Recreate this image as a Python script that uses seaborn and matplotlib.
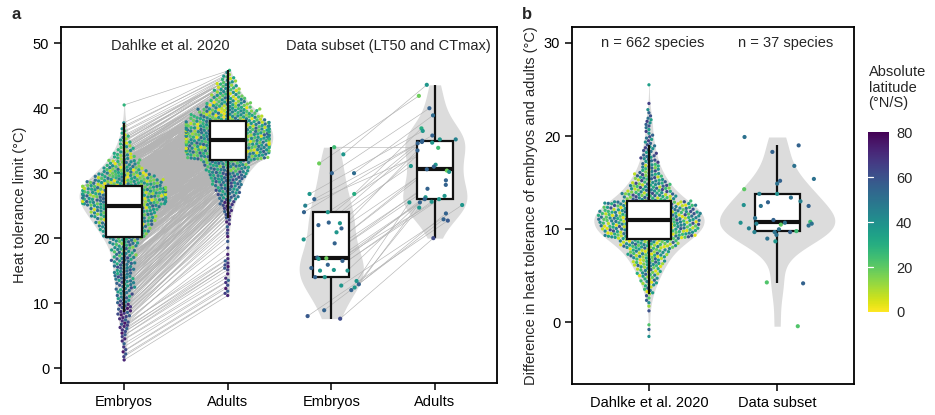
import numpy as np
import pandas as pd
import matplotlib
matplotlib.use("Agg")
import matplotlib.pyplot as plt
import seaborn as sns
from matplotlib.collections import LineCollection
import matplotlib as mpl

# ---------------- data ----------------
# Dahlke et al. 2020: counts of species per 1 °C bin (bin lower edge)
emb_bin_lo = list(range(1, 41))
emb_counts = [2, 3, 2, 3, 4, 6, 6, 8, 8, 8, 9, 10, 11, 12, 12, 13, 13, 14, 17,
              26, 30, 35, 38, 41, 54, 57, 54, 46, 36, 26, 18, 13, 9, 7, 5, 3, 2, 0, 0, 1]
adu_bin_lo = list(range(11, 46))
adu_counts = [3, 2, 3, 1, 4, 3, 1, 1, 1, 2, 2, 3, 4, 6, 9, 12, 15, 18, 22, 25, 28,
              50, 55, 55, 58, 58, 55, 45, 36, 27, 20, 15, 12, 8, 3]
diff_bin_lo = list(range(-2, 26))
diff_counts = [1, 2, 0, 2, 4, 8, 14, 20, 28, 36, 50, 80, 86, 88, 75, 44, 36, 25,
               17, 13, 10, 7, 5, 6, 3, 1, 0, 1]

# latitude mix (°N/S) seen at different embryo tolerance ranges
emb_lat_edges = [0, 10, 17, 22, 27, 32, 50]
emb_lat_mix = [
    [72, 65, 58, 75, 62, 68, 55, 70],
    [55, 45, 62, 40, 50, 35, 58, 48, 30],
    [45, 30, 55, 22, 40, 15, 50, 35],
    [30, 12, 45, 22, 55, 5, 38, 28, 42, 18, 35, 50],
    [28, 8, 38, 18, 45, 3, 32, 22, 50, 15, 40],
    [22, 38, 12, 42, 28, 6, 32],
]
diff_lat_edges = [-5, 3, 9, 13, 17, 30]
diff_lat_mix = [
    [40, 55, 22, 60, 12],
    [12, 35, 4, 45, 25, 55, 8, 30, 40, 18],
    [35, 20, 50, 8, 40, 60, 25, 45, 4, 30],
    [40, 25, 55, 15, 45, 62, 30, 8],
    [55, 40, 65, 35, 50, 60],
]

# Data subset (LT50 and CTmax), 37 species, paired order
sub_emb = [34.0, 32.9, 31.5, 30.0, 30.0, 26.8, 26.8, 26.0, 25.0, 24.0, 24.0, 22.4,
           22.3, 22.0, 21.5, 20.9, 19.8, 19.2, 17.0, 16.9, 16.8, 16.5, 15.9, 15.4,
           15.1, 15.0, 15.0, 14.0, 14.0, 13.4, 12.9, 12.7, 12.4, 12.0, 8.9, 8.0, 7.6]
sub_adu = [33.9, 43.6, 41.9, 40.0, 38.9, 36.9, 36.5, 35.8, 35.2, 35.2, 35.0, 34.8,
           34.7, 34.6, 33.5, 31.3, 31.1, 31.0, 30.6, 30.4, 30.2, 28.9, 28.2, 27.6,
           26.5, 26.3, 26.0, 26.0, 25.6, 25.5, 25.5, 25.1, 24.7, 23.8, 22.9, 22.7, 20.0]
sub_lat = [25, 38, 18, 55, 52, 30, 38, 55, 45, 38, 55, 55, 38, 55, 55, 38, 38, 55,
           55, 18, 38, 55, 55, 55, 38, 38, 38, 55, 38, 38, 55, 38, 38, 55, 55, 58, 62]
sub_diff = [19.9, 19.0, 18.3, 16.8, 15.4, 15.2, 14.9, 14.3, 13.8, 13.8, 13.4, 13.0,
            12.9, 12.6, 12.5, 12.5, 11.2, 11.0, 10.8, 10.7, 10.7, 10.6, 10.6, 10.5,
            10.4, 10.1, 10.0, 9.8, 9.7, 9.7, 9.7, 9.4, 9.0, 8.7, 4.3, 4.2, -0.4]
sub_diff_lat = [50, 55, 55, 50, 50, 55, 50, 20, 45, 40, 50, 45, 55, 40, 50, 55, 50,
                55, 25, 40, 50, 50, 45, 20, 50, 45, 50, 25, 55, 50, 45, 50, 50, 38,
                22, 55, 22]

cats_a = ["D_emb", "D_adu", "S_emb", "S_adu"]
labels_a = ["Embryos", "Adults", "Embryos", "Adults"]
cats_b = ["Dahlke et al. 2020", "Data subset"]


def expand(lo, counts):
    vals = []
    for l, c in zip(lo, counts):
        vals += [l + (k + 0.5) / c for k in range(c)]
    return np.array(vals)


def lat_for(values, edges, mixes):
    out = []
    counters = [0] * len(mixes)
    for v in values:
        j = np.searchsorted(edges, v, side="right") - 1
        j = min(max(j, 0), len(mixes) - 1)
        m = mixes[j]
        out.append(m[counters[j] % len(m)])
        counters[j] += 1
    return np.array(out, dtype=float)


emb = expand(emb_bin_lo, emb_counts)
adu = expand(adu_bin_lo, adu_counts)
diff = expand(diff_bin_lo, diff_counts)
emb_lat = lat_for(emb, emb_lat_edges, emb_lat_mix)
diff_lat = lat_for(diff, diff_lat_edges, diff_lat_mix)

dA = pd.DataFrame({
    "cat": ["D_emb"] * len(emb) + ["D_adu"] * len(adu),
    "val": np.concatenate([emb, adu]),
    "lat": np.concatenate([emb_lat, emb_lat]),
})
sA = pd.DataFrame({
    "cat": ["S_emb"] * len(sub_emb) + ["S_adu"] * len(sub_adu),
    "val": sub_emb + sub_adu,
    "lat": sub_lat + sub_lat,
})
dB = pd.DataFrame({"cat": cats_b[0], "val": diff, "lat": diff_lat})
sB = pd.DataFrame({"cat": cats_b[1], "val": sub_diff, "lat": sub_diff_lat})

# ---------------- style ----------------
sns.set_theme(style="ticks")
plt.rcParams["font.family"] = ["Liberation Sans", "DejaVu Sans"]
plt.rcParams["axes.linewidth"] = 1.2

VGRAY = "#dcdcdc"
LGRAY = "#b4b4b4"
cmap = "viridis_r"
hnorm = (0, 80)
PSIZE = 2.35

fig = plt.figure(figsize=(9.35, 4.15), dpi=100)
axA = fig.add_axes([0.0652, 0.0771, 0.4663, 0.8578])
axB = fig.add_axes([0.6118, 0.0747, 0.3016, 0.8602])
cax = fig.add_axes([0.9283, 0.2482, 0.0225, 0.4337])


def add_violin(ax, data, order, width, bw=1.0):
    n0 = len(ax.collections)
    sns.violinplot(data=data, x="cat", y="val", order=order, ax=ax, color=VGRAY,
                   saturation=1, inner=None, cut=0, linewidth=0, width=width,
                   density_norm="width", bw_adjust=bw)
    for c in ax.collections[n0:]:
        c.set_zorder(0.8)


def new_points(ax, n0):
    return [c for c in ax.collections[n0:] if len(c.get_offsets()) > 0]


# ---------- panel a ----------
add_violin(axA, dA, cats_a, 0.87)
add_violin(axA, sA, cats_a, 0.62, bw=0.9)

n0 = len(axA.collections)
sns.swarmplot(data=dA, x="cat", y="val", order=cats_a, hue="lat", palette=cmap,
              hue_norm=hnorm, size=PSIZE, legend=False, ax=axA, zorder=2,
              warn_thresh=1.0)
swA = new_points(axA, n0)
np.random.seed(3)
n1 = len(axA.collections)
sns.stripplot(data=sA, x="cat", y="val", order=cats_a, hue="lat", palette=cmap,
              hue_norm=hnorm, size=3.0, jitter=0.28, legend=False, ax=axA, zorder=4)
stA = new_points(axA, n1)

box_kw = dict(width=0.35, color="white", saturation=1, linecolor="#111111",
              linewidth=1.6, showfliers=False, showcaps=False,
              medianprops=dict(linewidth=3), zorder=3)
sns.boxplot(data=dA, x="cat", y="val", order=cats_a, ax=axA, **box_kw)
sns.boxplot(data=sA, x="cat", y="val", order=cats_a, ax=axA, **box_kw)

axA.set_xlim(-0.61, 3.60)
axA.set_ylim(-2.3, 52.5)
axA.set_yticks([0, 10, 20, 30, 40, 50])
axA.set_xticks(range(4))
axA.set_xticklabels(labels_a)
axA.set_xlabel("")
axA.set_ylabel("Heat tolerance limit (°C)", fontsize=10.5)
axA.text(0.45, 49.6, "Dahlke et al. 2020", ha="center", va="center", fontsize=10.5)
axA.text(2.55, 49.6, "Data subset (LT50 and CTmax)", ha="center", va="center",
         fontsize=10.5)

# ---------- panel b ----------
add_violin(axB, dB, cats_b, 0.86)
add_violin(axB, sB, cats_b, 0.9)
sns.swarmplot(data=dB, x="cat", y="val", order=cats_b, hue="lat", palette=cmap,
              hue_norm=hnorm, size=PSIZE, legend=False, ax=axB, zorder=2,
              warn_thresh=1.0)
np.random.seed(7)
sns.stripplot(data=sB, x="cat", y="val", order=cats_b, hue="lat", palette=cmap,
              hue_norm=hnorm, size=3.0, jitter=0.3, legend=False, ax=axB, zorder=4)
sns.boxplot(data=dB, x="cat", y="val", order=cats_b, ax=axB, **box_kw)
sns.boxplot(data=sB, x="cat", y="val", order=cats_b, ax=axB, **box_kw)
axB.set_xlim(-0.6, 1.6)
axB.set_ylim(-6.6, 31.7)
axB.set_yticks([0, 10, 20, 30])
axB.set_xlabel("")
axB.set_ylabel("Difference in heat tolerance of embryos and adults (°C)",
               fontsize=10.5)
axB.text(0.03, 30.0, "n = 662 species", ha="center", va="center", fontsize=10.5)
axB.text(1.07, 30.0, "n = 37 species", ha="center", va="center", fontsize=10.5)

for ax in (axA, axB):
    for s in ax.spines.values():
        s.set_visible(True)
        s.set_linewidth(1.3)
        s.set_color("black")
    ax.tick_params(axis="both", length=5, width=1.1, color="black",
                   labelsize=10.5, labelcolor="black")

# ---------- pairing lines (from the drawn point positions) ----------
fig.canvas.draw()


def by_center(cols):
    d = {}
    for c in cols:
        off = c.get_offsets()
        d[int(round(float(np.mean(off[:, 0]))))] = np.asarray(off)
    return d


pa = by_center(swA)
ps = by_center(stA)
segs = [[pa[0][i], pa[1][i]] for i in range(len(pa[0]))]
segs += [[ps[2][i], ps[3][i]] for i in range(len(ps[2]))]
axA.add_collection(LineCollection(segs, colors=LGRAY, linewidths=0.45, zorder=1.5))

# ---------- colour bar ----------
cb = mpl.colorbar.ColorbarBase(cax, cmap=plt.get_cmap(cmap),
                               norm=mpl.colors.Normalize(0, 80),
                               ticks=[0, 20, 40, 60, 80])
cb.outline.set_visible(False)
cax.tick_params(length=0, labelsize=10.5, pad=5)
for t in [20, 40, 60]:
    cax.plot([0, 0.25], [t, t], color="white", lw=0.9, transform=cax.get_yaxis_transform())
fig.text(0.929, 0.843, "Absolute\nlatitude\n(°N/S)", ha="left", va="top",
         fontsize=10.5, linespacing=1.15)

fig.text(0.012, 0.965, "a", fontsize=12, fontweight="bold", ha="left", va="center")
fig.text(0.558, 0.965, "b", fontsize=12, fontweight="bold", ha="left", va="center")

fig.savefig("out.png", dpi=100)
